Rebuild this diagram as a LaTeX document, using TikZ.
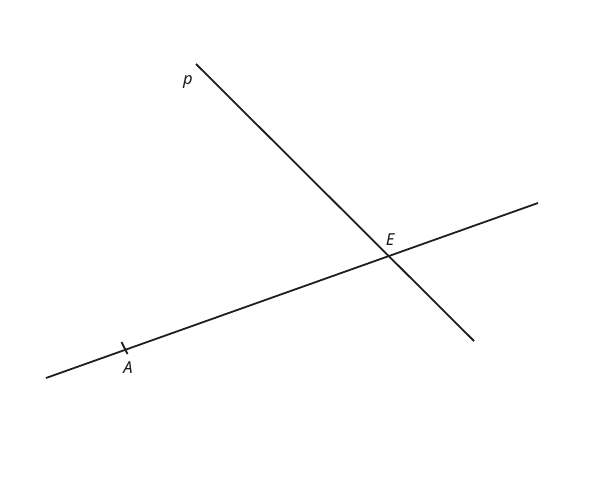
\documentclass[tikz,border=0pt]{standalone}
\usepackage{fontspec}
\setmainfont{Noto Sans}
\begin{document}
\begin{tikzpicture}[x=1pt,y=-1pt,
  ln/.style={draw=black!88,line width=1.8pt},
  lbl/.style={font=\fontsize{16.5}{18}\selectfont\itshape,text=black!90,inner sep=0pt}]
\useasboundingbox (0,0) rectangle (590,503);
\coordinate (p1) at (196,64);
\coordinate (p2) at (474,341);
\coordinate (l1) at (46,378);
\coordinate (l2) at (538,203);
\coordinate (t1) at (121.5,342);
\coordinate (t2) at (127.5,354);
\draw[ln] (p1) -- (p2);
\draw[ln] (l1) -- (l2);
\draw[ln] (t1) -- (t2);
\node[lbl] (p) at (188,82) {p};
\node[lbl] (E) at (390,240) {E};
\node[lbl] (A) at (128,368) {A};
\end{tikzpicture}
\end{document}
